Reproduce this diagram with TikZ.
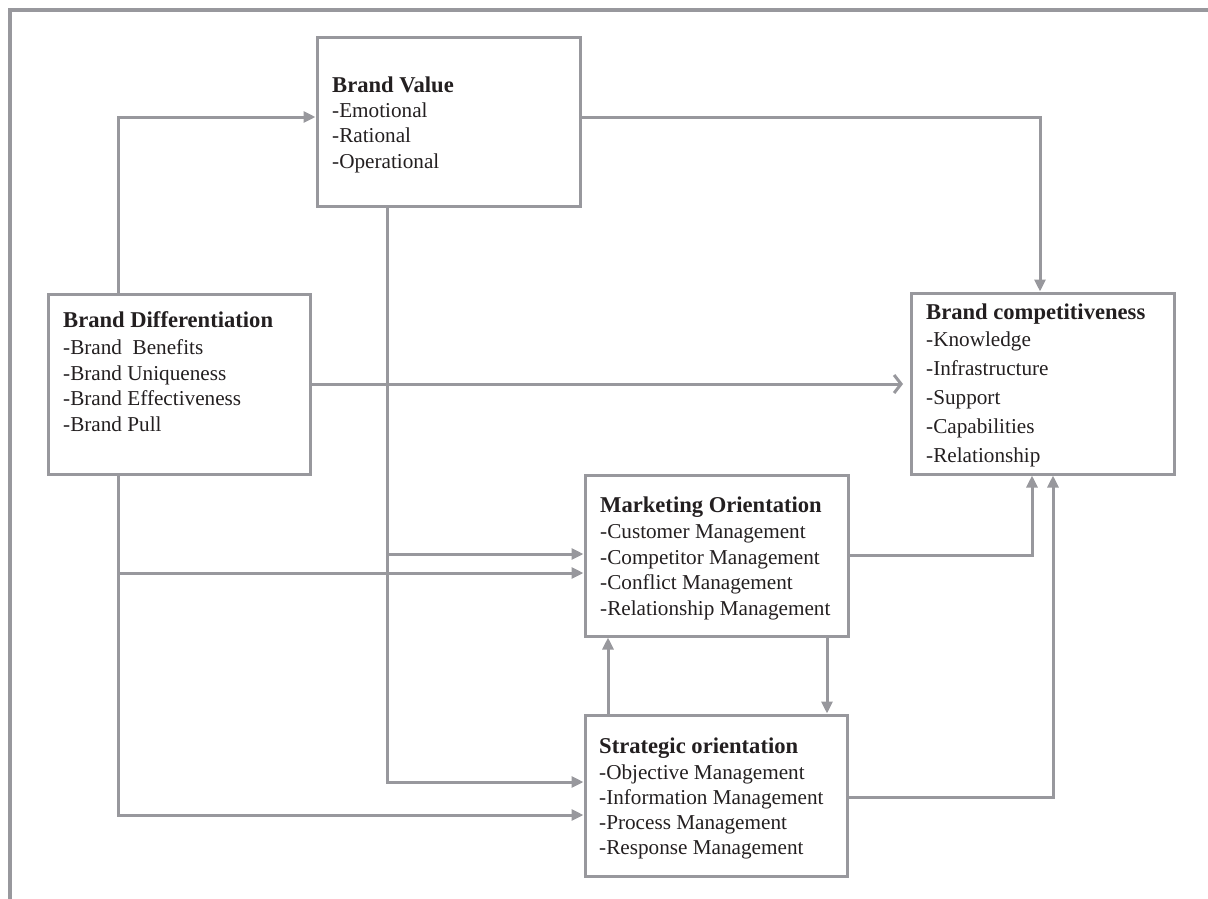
\documentclass[tikz,border=0pt]{standalone}
\usepackage{fontspec}
\setmainfont{Liberation Serif}
\usetikzlibrary{arrows.meta}
\definecolor{lg}{RGB}{152,152,157}
\definecolor{ink}{RGB}{35,31,32}
\tikzset{
  box/.style={draw=lg, line width=3pt, rectangle, inner sep=0pt},
  txt/.style={text=ink, align=left, inner sep=0pt, anchor=base west,
    font=\fontsize{21.2}{25.4}\selectfont},
  conn/.style={draw=lg, line width=3pt, -{Triangle[length=12pt,width=11pt]}},
  connopen/.style={draw=lg, line width=3pt, -{Straight Barb[length=7pt,width=18pt]}},
  frame/.style={draw=lg, line width=4pt},
}
\newcommand{\ttl}[1]{{\fontsize{22.6}{25.4}\selectfont\bfseries #1}}
\begin{document}
\begin{tikzpicture}[x=1pt,y=-1pt]
\useasboundingbox (0,0) rectangle (1208,898);
\draw[frame] (1210,10) -- (10,10) -- (10,900);

% boxes
\node[box, minimum width=263pt, minimum height=169pt] (bv) at (448.5,121.5) {};
\node[box, minimum width=262pt, minimum height=180pt] (bd) at (179,384) {};
\node[box, minimum width=263pt, minimum height=181pt] (bc) at (1042.5,383.5) {};
\node[box, minimum width=263pt, minimum height=161pt] (mo) at (716.5,555.5) {};
\node[box, minimum width=262pt, minimum height=161pt] (so) at (716,795.5) {};

% texts (anchored at the baseline of their last line)
\node[txt] (bvt) at (332,168) {\ttl{Brand Value}\\[-1pt]-Emotional\\-Rational\\-Operational};
\node[txt] (bdt) at (63,431) {\ttl{Brand Differentiation}\\[1.5pt]-Brand\ \ Benefits\\-Brand Uniqueness\\-Brand Effectiveness\\-Brand Pull};
\node[txt, font=\fontsize{21.2}{29}\selectfont] (bct) at (926,462) {\ttl{Brand competitiveness}\\[-2pt]-Knowledge\\-Infrastructure\\-Support\\-Capabilities\\-Relationship};
\node[txt] (mot) at (600,615) {\ttl{Marketing Orientation}\\[0.5pt]-Customer Management\\-Competitor Management\\-Conflict Management\\-Relationship Management};
\node[txt, font=\fontsize{21.2}{25}\selectfont] (sot) at (599,854) {\ttl{Strategic orientation}\\[1pt]-Objective Management\\-Information Management\\-Process Management\\-Response Management};

% helper levels
\coordinate (xa) at (118,0);
\coordinate (xb) at (387,0);
\coordinate (xc) at (1040,0);
\coordinate (xd) at (1032,0);
\coordinate (xe) at (1053,0);
\coordinate (xf) at (608,0);
\coordinate (xg) at (827,0);
\coordinate (ya) at (0,117);
\coordinate (yb) at (0,384);
\coordinate (yc) at (0,554);
\coordinate (yd) at (0,573);
\coordinate (ye) at (0,782);
\coordinate (yf) at (0,815);
\coordinate (yg) at (0,555);
\coordinate (yh) at (0,797);
\coordinate (bcin) at (903,384);

% connectors
\draw[conn] (bd.north -| xa) |- (bv.west |- ya);
\draw[conn] (bv.east |- ya) -| (bc.north -| xc);
\draw[connopen] (bd.east |- yb) -- (bcin);
\draw[conn] (bv.south -| xb) |- (so.west |- ye);
\draw[conn] (xb |- yc) -- (mo.west |- yc);
\draw[conn] (bd.south -| xa) |- (so.west |- yf);
\draw[conn] (xa |- yd) -- (mo.west |- yd);
\draw[conn] (mo.east |- yg) -| (bc.south -| xd);
\draw[conn] (so.east |- yh) -| (bc.south -| xe);
\draw[conn] (so.north -| xf) -- (mo.south -| xf);
\draw[conn] (mo.south -| xg) -- (so.north -| xg);
\end{tikzpicture}
\end{document}
